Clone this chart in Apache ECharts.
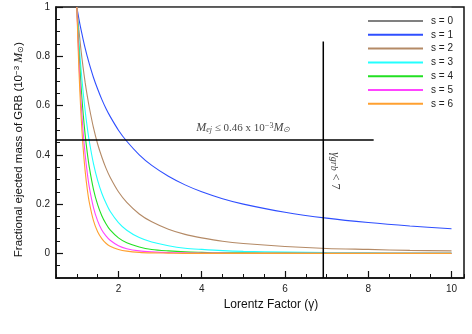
<!DOCTYPE html>
<html>
<head>
<meta charset="utf-8">
<script src="https://cdn.jsdelivr.net/npm/echarts@6/dist/echarts.min.js"></script>
<style>
html,body{margin:0;padding:0;background:#fff;}
#chart{width:472px;height:334px;}
</style>
</head>
<body>
<div id="chart"></div>
<script>
// Lorentz factor sample points
var gammaValues = [1, 1.05, 1.1, 1.15, 1.2, 1.25, 1.3, 1.4, 1.5, 1.6, 1.7, 1.8, 2, 2.2, 2.5, 2.8, 3.2, 3.6, 4, 4.5, 5, 6, 7, 8, 9, 10];
// Fractional ejected mass
var s0 = [1, 1, 1, 1, 1, 1, 1, 1, 1, 1, 1, 1, 1, 1, 1, 1, 1, 1, 1, 1, 1, 1, 1, 1, 1, 1];
var s1 = [1, .952, .909, .870, .833, .800, .769, .714, .667, .625, .588, .556, .500, .455, .400, .357, .313, .278, .250, .222, .200, .167, .143, .125, .111, .100];
var s2 = [1, .907, .826, .756, .694, .640, .592, .510, .444, .391, .346, .309, .250, .207, .160, .128, .098, .077, .063, .049, .040, .028, .020, .016, .012, .010];
var s3 = [1, .864, .751, .658, .579, .512, .455, .364, .296, .244, .204, .171, .125, .094, .064, .046, .031, .021, .016, .011, .008, .005, .003, .002, .001, .001];
var s4 = [1, .823, .683, .572, .482, .410, .350, .260, .198, .153, .120, .095, .063, .043, .026, .016, .010, .006, .004, .002, .002, .001, 0, 0, 0, 0];
var s5 = [1, .784, .621, .497, .402, .328, .269, .186, .132, .095, .071, .053, .031, .019, .010, .006, .003, .002, .001, .001, 0, 0, 0, 0, 0, 0];
var s6 = [1, .746, .564, .432, .335, .262, .207, .133, .088, .060, .041, .029, .016, .009, .004, .002, .001, 0, 0, 0, 0, 0, 0, 0, 0, 0];
var seriesNames = ['s = 0', 's = 1', 's = 2', 's = 3', 's = 4', 's = 5', 's = 6'];
var seriesValues = [s0, s1, s2, s3, s4, s5, s6];
var seriesColors = ['#808080', '#2f4fff', '#b48a66', '#22ffff', '#22e022', '#ff44ff', '#ffa030'];

// Reference lines
var massLimit = 0.46;
var massLineX = [0.5, 8.13];
var gammaLimit = 6.92;
var gammaLineY = [-0.1, 0.86];
// Annotation anchor positions (data coords)
var massLabelAt = [5.0, 0.51];
var gammaLabelAt = [7.21, 0.335];

// Axis ticks
var xMajorTicks = [2, 4, 6, 8, 10];
var yMajorTicks = [0, 0.2, 0.4, 0.6, 0.8, 1];

function pairs(xs, ys) { return xs.map(function (x, i) { return [x, ys[i]]; }); }

var series = seriesNames.map(function (n, i) {
  return {
    name: n, type: 'line', xAxisIndex: 0, yAxisIndex: 0,
    data: pairs(gammaValues, seriesValues[i]),
    showSymbol: false, symbol: 'none', smooth: 0.3,
    lineStyle: { color: seriesColors[i], width: 1.1 },
    itemStyle: { color: seriesColors[i] },
    z: i === 0 ? 1 : 3
  };
});

series.push({
  type: 'line', data: [[massLineX[0], massLimit], [massLineX[1], massLimit]],
  symbol: 'none', lineStyle: { color: '#000', width: 1.5 }, z: 4, silent: true
});
series.push({
  type: 'line', data: [[gammaLimit, gammaLineY[0]], [gammaLimit, gammaLineY[1]]],
  symbol: 'none', lineStyle: { color: '#000', width: 1.5 }, z: 4, silent: true
});
series.push({
  type: 'scatter', symbolSize: 0, silent: true, z: 5,
  data: [massLabelAt],
  label: {
    show: true, position: [0, 0], align: 'center', verticalAlign: 'middle', color: '#111',
    fontFamily: 'Liberation Serif', fontSize: 11,
    formatter: '{it|M}{sub|ej} ≤ 0.46 x 10{sup|−3}{it|M}{sub|⊙}',
    rich: {
      it: { fontFamily: 'Liberation Serif', fontStyle: 'italic', fontSize: 12, color: '#111' },
      sub: { fontFamily: 'Liberation Serif', fontStyle: 'italic', fontSize: 8, verticalAlign: 'bottom', color: '#111', padding: [4, 0, 0, 0] },
      sup: { fontFamily: 'Liberation Serif', fontSize: 8, verticalAlign: 'top', color: '#111', padding: [0, 0, 4, 0] }
    }
  }
});
series.push({
  type: 'scatter', symbolSize: 0, silent: true, z: 5,
  data: [gammaLabelAt],
  label: {
    show: true, position: [0, 0], align: 'center', verticalAlign: 'middle', color: '#111', rotate: -90,
    fontFamily: 'Liberation Serif', fontSize: 12,
    formatter: '{it|γ}{sub|grb} < 7',
    rich: {
      it: { fontFamily: 'Liberation Serif', fontStyle: 'italic', fontSize: 12, color: '#111' },
      sub: { fontFamily: 'Liberation Serif', fontStyle: 'italic', fontSize: 10, verticalAlign: 'bottom', color: '#111', padding: [4, 0, 0, 0] }
    }
  }
});

var chart = echarts.init(document.getElementById('chart'), null, { renderer: 'canvas' });
chart.setOption({
  animation: false,
  backgroundColor: '#fff',
  textStyle: { fontFamily: 'Liberation Sans' },
  grid: { left: 56, top: 7, right: 8, bottom: 56, show: true, borderColor: '#111', borderWidth: 1.5, backgroundColor: 'transparent' },
  legend: {
    data: seriesNames, orient: 'vertical', left: 363, top: 10,
    icon: 'rect', itemWidth: 55, itemHeight: 2, itemGap: 1.8,
    textStyle: { fontSize: 10, lineHeight: 12, color: '#222', padding: [0, 0, 0, 3] },
    inactiveColor: '#ccc'
  },
  xAxis: [
    {
      type: 'value', min: 0.5, max: 10.3, position: 'bottom',
      name: 'Lorentz Factor (γ)', nameLocation: 'middle', nameGap: 18,
      nameTextStyle: { fontSize: 12, color: '#111', padding: [0, 0, 0, 22] },
      axisLine: { show: true, onZero: false, lineStyle: { color: '#111', width: 1.5 } },
      axisTick: { show: true, inside: true, length: 7, customValues: xMajorTicks, lineStyle: { color: '#111', width: 1.2 } },
      axisLabel: { show: true, customValues: xMajorTicks, fontSize: 10, color: '#222', margin: 6 },
      splitLine: { show: false }
    },
    {
      type: 'value', min: 0.5, max: 10.3, interval: 0.5, position: 'bottom',
      axisLine: { show: false, onZero: false },
      axisTick: { show: true, inside: true, length: 4, lineStyle: { color: '#111', width: 1 } },
      axisLabel: { show: false }, splitLine: { show: false }
    }
  ],
  yAxis: [
    {
      type: 'value', min: -0.1, max: 1, position: 'left',
      name: 'Fractional ejected mass of GRB (10{sup|−3} {it|M}{sub|⊙})',
      nameLocation: 'middle', nameGap: 26, nameRotate: 90,
      nameTextStyle: {
        fontSize: 11.5, color: '#111', padding: [0, 14, 0, 0],
        rich: {
          sup: { fontSize: 8, verticalAlign: 'top', color: '#111', padding: [0, 0, 4, 0] },
          it: { fontSize: 12, fontFamily: 'Liberation Serif', fontStyle: 'italic', color: '#111' },
          sub: { fontSize: 8, verticalAlign: 'bottom', color: '#111', padding: [4, 0, 0, 0] }
        }
      },
      axisLine: { show: true, onZero: false, lineStyle: { color: '#111', width: 1.5 } },
      axisTick: { show: true, inside: true, length: 7, customValues: yMajorTicks, lineStyle: { color: '#111', width: 1.2 } },
      axisLabel: { show: true, customValues: yMajorTicks, fontSize: 10, color: '#222', margin: 6 },
      splitLine: { show: false }
    },
    {
      type: 'value', min: -0.1, max: 1, interval: 0.05, position: 'left',
      axisLine: { show: false, onZero: false },
      axisTick: { show: true, inside: true, length: 4, lineStyle: { color: '#111', width: 1 } },
      axisLabel: { show: false }, splitLine: { show: false }
    }
  ],
  series: series
});
</script>
</body>
</html>
